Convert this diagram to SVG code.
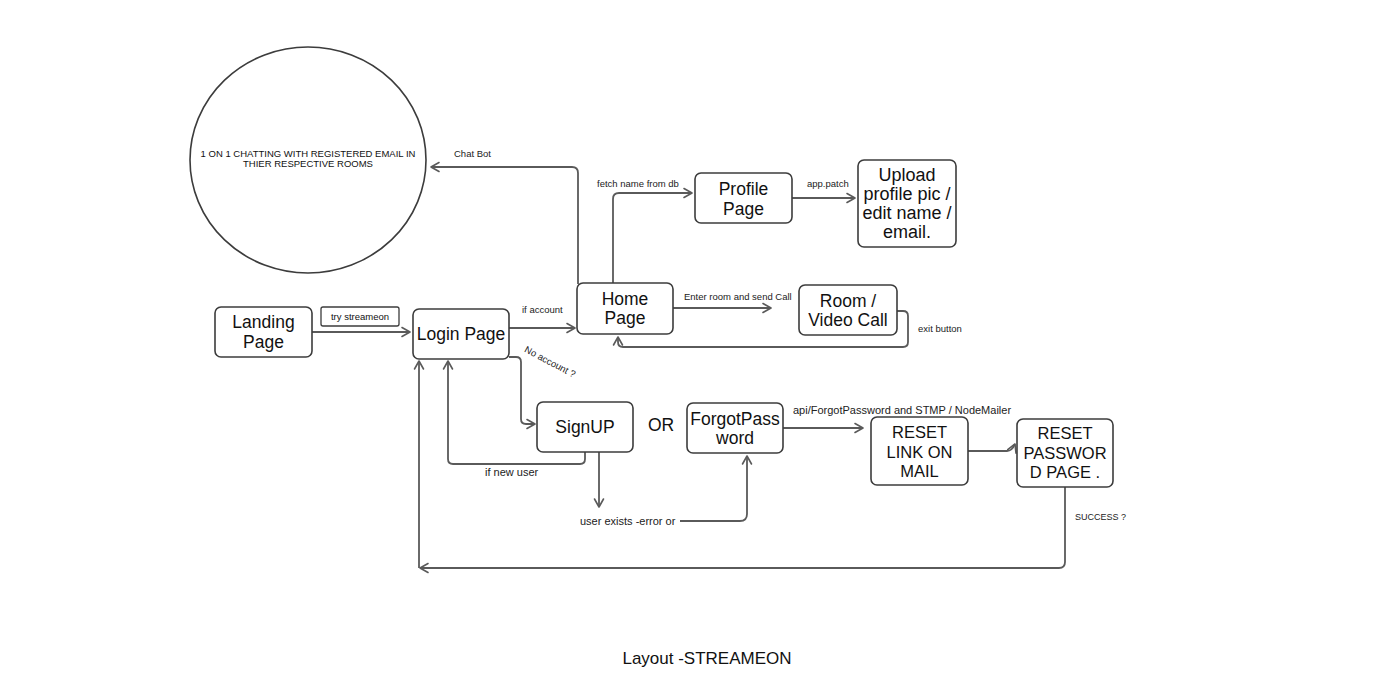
<svg xmlns="http://www.w3.org/2000/svg" width="1396" height="695" viewBox="0 0 1396 695">
<style>
  .node { fill: #ffffff; stroke: #3c3c3c; stroke-width: 1.6; }
  .conn { fill: none; stroke: #5a5a5a; stroke-width: 1.8; stroke-linejoin: round; }
  .t { font-family: "Liberation Sans", Arial, sans-serif; fill: #111111; text-anchor: middle; }
  .big { font-size: 17.5px; }
  .lbl { font-family: "Liberation Sans", Arial, sans-serif; fill: #222222; font-size: 9.5px; }
  .lbl2 { font-size: 11px; }
</style>
<defs>
  <marker id="arr" markerUnits="userSpaceOnUse" markerWidth="12" markerHeight="12" refX="9" refY="5" orient="auto" overflow="visible">
    <path d="M1,0.5 L9,5 L1,9.5" fill="none" stroke="#5a5a5a" stroke-width="1.6" stroke-linecap="round" stroke-linejoin="round"/>
  </marker>
</defs>
<rect width="1396" height="695" fill="#ffffff"/>

<g id="connectors">
  <path class="conn" d="M312,332 H410" marker-end="url(#arr)"/>
  <path class="conn" d="M509,328 H575" marker-end="url(#arr)"/>
  <path class="conn" d="M578,284 V173 Q578,167 572,167 H431" marker-end="url(#arr)"/>
  <path class="conn" d="M613,284 V199 Q613,193 619,193 H692" marker-end="url(#arr)"/>
  <path class="conn" d="M792,198 H855" marker-end="url(#arr)"/>
  <path class="conn" d="M673,308 H771" marker-end="url(#arr)"/>
  <path class="conn" d="M897,311 H903 Q908,311 908,316 V342 Q908,347 903,347 H623 Q618,347 618,342 V337" marker-end="url(#arr)"/>
  <path class="conn" d="M509,357 H516 Q521,357 521,362 V419 Q521,424 526,424 H535" marker-end="url(#arr)"/>
  <path class="conn" d="M585,452 V459 Q585,464 580,464 H453 Q448,464 448,459 V361" marker-end="url(#arr)"/>
  <path class="conn" d="M599,452 V507" marker-end="url(#arr)"/>
  <path class="conn" d="M680,521 H740 Q747,521 747,514 V456" marker-end="url(#arr)"/>
  <path class="conn" d="M783,428 H863" marker-end="url(#arr)"/>
  <path class="conn" d="M968,451 H1007 Q1012,451 1015,444" marker-end="url(#arr)"/>
  <path class="conn" d="M1065,487 V562 Q1065,568 1059,568 H420" marker-end="url(#arr)"/>
  <path class="conn" d="M419,568 V361" marker-end="url(#arr)"/>

  <text class="lbl" x="454" y="157">Chat Bot</text>
  <text class="lbl" x="597" y="187">fetch name from db</text>
  <text class="lbl" x="807" y="187">app.patch</text>
  <text class="lbl" x="684" y="300">Enter room and send Call</text>
  <text class="lbl" x="918" y="332">exit button</text>
  <text class="lbl" x="522" y="313">if account</text>
  <text class="lbl" x="550" y="365" text-anchor="middle" transform="rotate(28 550 362)">No account ?</text>
  <text class="lbl lbl2" x="485" y="476">if new user</text>
  <text class="lbl lbl2" x="580" y="525">user exists -error or</text>
  <text class="lbl lbl2" x="793" y="414">api/ForgotPassword and STMP / NodeMailer</text>
  <text class="lbl" x="1075" y="520" style="font-size:9px">SUCCESS ?</text>
</g>

<g id="chat-circle">
  <ellipse class="node" cx="308" cy="160" rx="118" ry="113"/>
  <text class="t" x="308" y="157" style="font-size:9.5px">1 ON 1 CHATTING WITH REGISTERED EMAIL IN</text>
  <text class="t" x="308" y="167" style="font-size:9.5px">THIER RESPECTIVE ROOMS</text>
</g>

<g id="landing-page">
  <rect class="node" x="215" y="307" width="97" height="50" rx="6"/>
  <text class="t big" x="263.5" y="328">Landing</text>
  <text class="t big" x="263.5" y="348">Page</text>
</g>

<g id="try-streameon">
  <rect class="node" x="321" y="307" width="78" height="19" rx="2" style="stroke-width:1.3"/>
  <text class="t" x="360" y="320" style="font-size:9.5px">try streameon</text>
</g>

<g id="login-page">
  <rect class="node" x="413" y="309" width="96" height="50" rx="6"/>
  <text class="t big" x="461" y="340">Login Page</text>
</g>

<g id="home-page">
  <rect class="node" x="577" y="283" width="96" height="51" rx="6"/>
  <text class="t big" x="625" y="305">Home</text>
  <text class="t big" x="625" y="324">Page</text>
</g>

<g id="profile-page">
  <rect class="node" x="695" y="173" width="97" height="50" rx="6"/>
  <text class="t big" x="743.5" y="195">Profile</text>
  <text class="t big" x="743.5" y="215">Page</text>
</g>

<g id="upload-box">
  <rect class="node" x="858" y="160" width="98" height="87" rx="6"/>
  <text class="t" x="907" y="181" style="font-size:18px">Upload</text>
  <text class="t" x="907" y="200" style="font-size:18px">profile pic /</text>
  <text class="t" x="907" y="219" style="font-size:18px">edit name /</text>
  <text class="t" x="907" y="238" style="font-size:18px">email.</text>
</g>

<g id="room-video-call">
  <rect class="node" x="799" y="285" width="98" height="50" rx="6"/>
  <text class="t big" x="848" y="307">Room /</text>
  <text class="t big" x="848" y="326">Video Call</text>
</g>

<g id="signup">
  <rect class="node" x="537" y="402" width="96" height="50" rx="6"/>
  <text class="t big" x="585" y="433">SignUP</text>
</g>

<g id="or-text">
  <text class="t big" x="661" y="431">OR</text>
</g>

<g id="forgot-password">
  <rect class="node" x="687" y="403" width="96" height="50" rx="6"/>
  <text class="t big" x="735" y="425">ForgotPass</text>
  <text class="t big" x="735" y="444">word</text>
</g>

<g id="reset-link">
  <rect class="node" x="871" y="417" width="97" height="68" rx="6"/>
  <text class="t" x="919.5" y="438" style="font-size:16.5px">RESET</text>
  <text class="t" x="919.5" y="458" style="font-size:16.5px">LINK ON</text>
  <text class="t" x="919.5" y="477" style="font-size:16.5px">MAIL</text>
</g>

<g id="reset-password-page">
  <rect class="node" x="1017" y="419" width="96" height="68" rx="6"/>
  <text class="t" x="1065" y="439" style="font-size:16.5px">RESET</text>
  <text class="t" x="1065" y="459" style="font-size:16.5px">PASSWOR</text>
  <text class="t" x="1065" y="478" style="font-size:16.5px">D PAGE .</text>
</g>

<g id="title">
  <text class="t" x="707" y="664" style="font-size:17px">Layout -STREAMEON</text>
</g>
</svg>
